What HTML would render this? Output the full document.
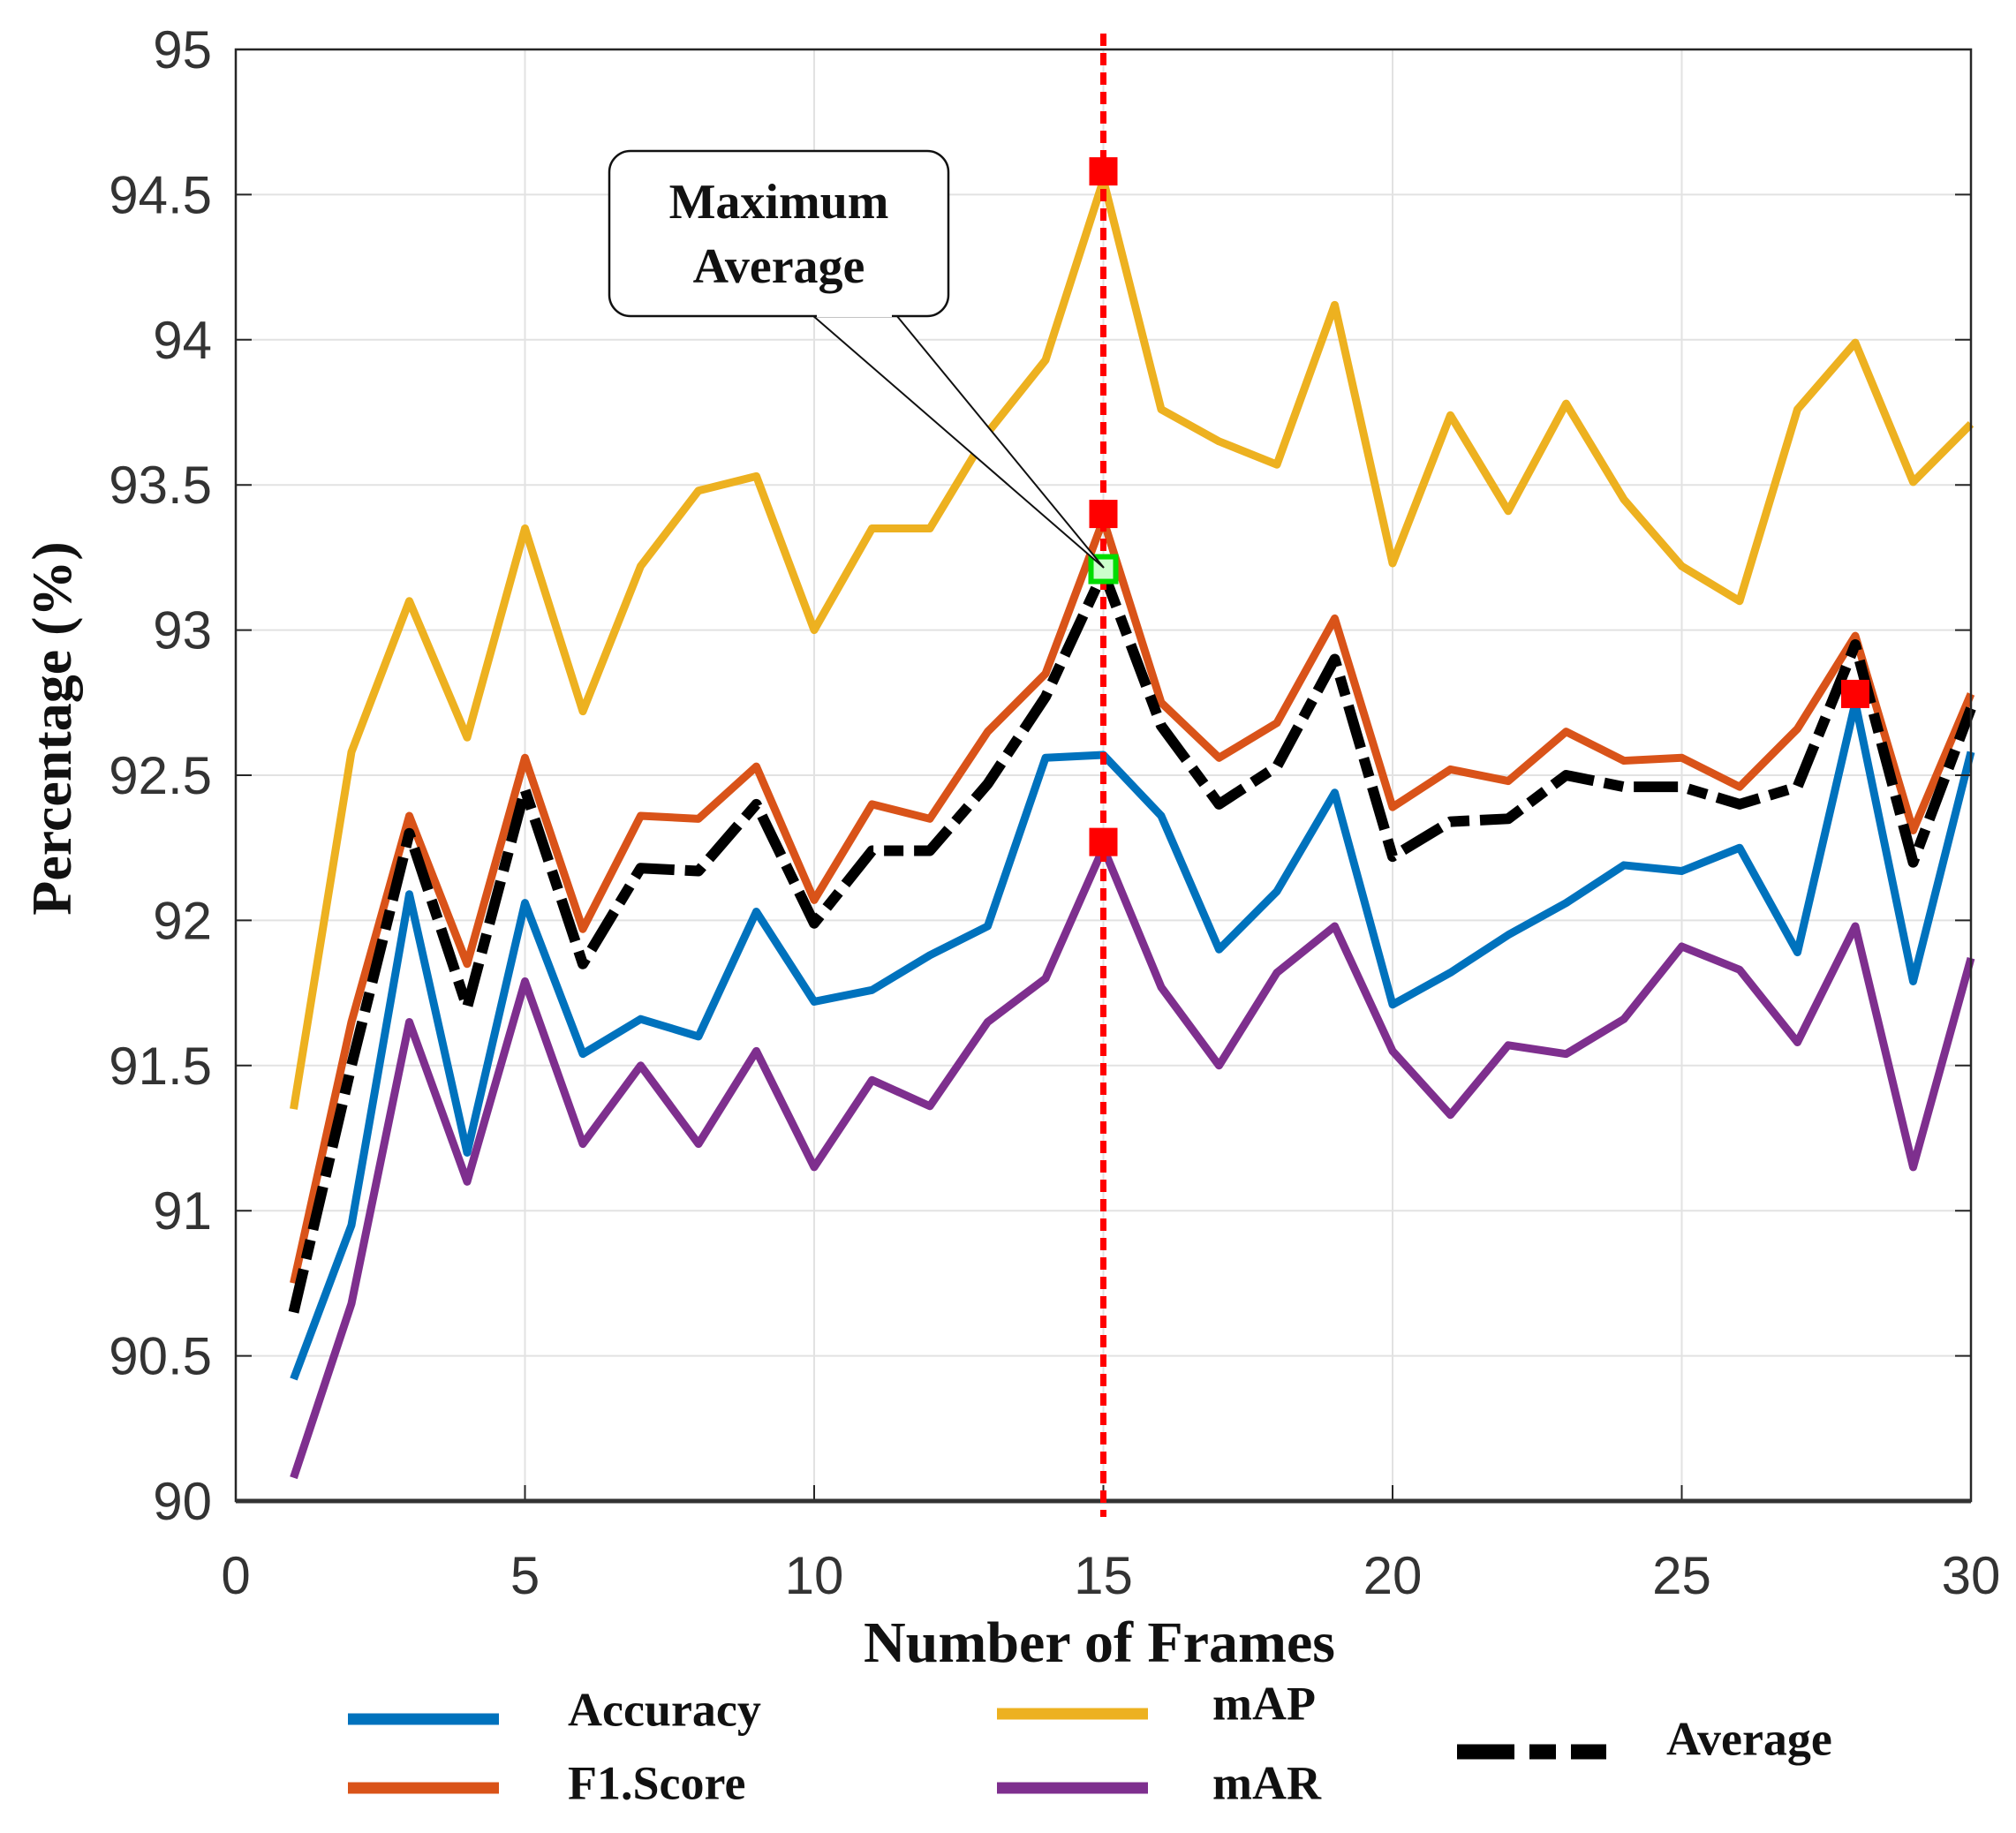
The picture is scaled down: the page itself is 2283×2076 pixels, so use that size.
<!DOCTYPE html>
<html><head><meta charset="utf-8">
<style>
html,body{margin:0;padding:0;background:#fff;}
svg{display:block;}
.tick{font-family:"Liberation Sans",sans-serif;font-size:60px;fill:#333;}
.serif{font-family:"Liberation Serif",serif;font-weight:bold;fill:#111;}
</style></head>
<body>
<svg id="chart" width="2283" height="2076" viewBox="0 0 2283 2076" xmlns="http://www.w3.org/2000/svg">
<g id="grid"></g>
<g id="series"></g>
<g id="axes"></g>
<g id="markers"></g>
<g>
  <path d="M920 357 L1250 643 L1015 357" fill="#fff" stroke="#111" stroke-width="2"/>
  <rect x="690" y="171" width="384" height="187" rx="24" fill="#fff" stroke="#111" stroke-width="2.5"/>
  <line x1="925" y1="357" x2="1010" y2="357" stroke="#fff" stroke-width="4"/>
  <text class="serif" font-size="56" text-anchor="middle" x="882" y="247">Maximum</text>
  <text class="serif" font-size="56" text-anchor="middle" x="882" y="320">Average</text>
</g>
<text class="serif" font-size="66" text-anchor="middle" x="1245" y="1882">Number of Frames</text>
<text class="serif" font-size="64" text-anchor="middle" transform="translate(80,825) rotate(-90)">Percentage (%)</text>
<g>
  <line x1="394" y1="1947" x2="565" y2="1947" stroke="#0072BD" stroke-width="13"/>
  <text class="serif" font-size="54" x="643" y="1942" dominant-baseline="middle">Accuracy</text>
  <line x1="394" y1="2025" x2="565" y2="2025" stroke="#D95319" stroke-width="13"/>
  <text class="serif" font-size="54" x="643" y="2025" dominant-baseline="middle">F1.Score</text>
  <line x1="1129" y1="1941" x2="1300" y2="1941" stroke="#EDB120" stroke-width="13"/>
  <text class="serif" font-size="54" x="1373" y="1935" dominant-baseline="middle">mAP</text>
  <line x1="1129" y1="2025" x2="1300" y2="2025" stroke="#7E2F8E" stroke-width="13"/>
  <text class="serif" font-size="54" x="1373" y="2025" dominant-baseline="middle">mAR</text>
  <line x1="1650" y1="1984" x2="1819" y2="1984" stroke="#000" stroke-width="17" stroke-dasharray="65 17 30 17"/>
  <text class="serif" font-size="54" x="1887" y="1975" dominant-baseline="middle">Average</text>
</g>
</svg>
<script>
const frames = [1,2,3,4,5,6,7,8,9,10,11,12,13,14,15,16,17,18,19,20,21,22,23,24,25,26,27,28,29,30];
const mAP = [91.35,92.58,93.1,92.63,93.35,92.72,93.22,93.48,93.53,93.0,93.35,93.35,93.68,93.93,94.55,93.76,93.65,93.57,94.12,93.23,93.74,93.41,93.78,93.45,93.22,93.1,93.76,93.99,93.51,93.71];
const f1Score = [90.75,91.65,92.36,91.85,92.56,91.97,92.36,92.35,92.53,92.07,92.4,92.35,92.65,92.85,93.38,92.75,92.56,92.68,93.04,92.39,92.52,92.48,92.65,92.55,92.56,92.46,92.66,92.98,92.31,92.78];
const accuracy = [90.42,90.95,92.09,91.2,92.06,91.54,91.66,91.6,92.03,91.72,91.76,91.88,91.98,92.56,92.57,92.36,91.9,92.1,92.44,91.71,91.82,91.95,92.06,92.19,92.17,92.25,91.89,92.75,91.79,92.58];
const mAR = [90.08,90.68,91.65,91.1,91.79,91.23,91.5,91.23,91.55,91.15,91.45,91.36,91.65,91.8,92.25,91.77,91.5,91.82,91.98,91.55,91.33,91.57,91.54,91.66,91.91,91.83,91.58,91.98,91.15,91.87];
const average = [90.65,91.5,92.3,91.7,92.45,91.85,92.18,92.17,92.4,91.99,92.24,92.24,92.47,92.77,93.2,92.67,92.4,92.53,92.9,92.22,92.34,92.35,92.5,92.46,92.46,92.4,92.46,92.95,92.2,92.73];
const xTicks = [0,5,10,15,20,25,30];
const yTicks = [90,90.5,91,91.5,92,92.5,93,93.5,94,94.5,95];
const redMarkersX = [15,15,15,28];
const redMarkersY = [94.58,93.4,92.27,92.78];
const greenMarkerX = [15];
const greenMarkerY = [93.21];
const highlightFrame = 15;

const L=267,R=2232,T=56,B=1700;
const sx=v=>L+(v-0)/(30-0)*(R-L);
const sy=v=>B-(v-90)/(95-90)*(B-T);
const NS="http://www.w3.org/2000/svg";
function mk(tag,parent){const e=document.createElementNS(NS,tag);parent.appendChild(e);return e;}
const grid=document.getElementById('grid'),axes=document.getElementById('axes'),ser=document.getElementById('series'),mks=document.getElementById('markers');

xTicks.forEach(t=>{
  const g=mk('line',grid);
  
  
  g.setAttribute('x1',sx(t));g.setAttribute('x2',sx(t));g.setAttribute('y1',T);g.setAttribute('y2',B);
  g.setAttribute('stroke','#e2e2e2');g.setAttribute('stroke-width','2');
  const tk=mk('line',axes);
  
  
  tk.setAttribute('x1',sx(t));tk.setAttribute('x2',sx(t));tk.setAttribute('y1',B);tk.setAttribute('y2',B-18);
  tk.setAttribute('stroke','#262626');tk.setAttribute('stroke-width','2');
  const tx=mk('text',axes);
  
  
  tx.setAttribute('class','tick');tx.setAttribute('x',sx(t));tx.setAttribute('y',1805);tx.setAttribute('text-anchor','middle');
  tx.textContent=t;
});
yTicks.forEach(t=>{
  const g=mk('line',grid);
  
  
  g.setAttribute('x1',L);g.setAttribute('x2',R);g.setAttribute('y1',sy(t));g.setAttribute('y2',sy(t));
  g.setAttribute('stroke','#e2e2e2');g.setAttribute('stroke-width','2');
  const tk=mk('line',axes);
  
  
  tk.setAttribute('x1',L);tk.setAttribute('x2',L+18);tk.setAttribute('y1',sy(t));tk.setAttribute('y2',sy(t));
  tk.setAttribute('stroke','#262626');tk.setAttribute('stroke-width','2');
  const tk2=mk('line',axes);
  
  
  tk2.setAttribute('x1',R);tk2.setAttribute('x2',R-18);tk2.setAttribute('y1',sy(t));tk2.setAttribute('y2',sy(t));
  tk2.setAttribute('stroke','#262626');tk2.setAttribute('stroke-width','2');
  const tx=mk('text',axes);
  
  
  tx.setAttribute('class','tick');tx.setAttribute('x',240);tx.setAttribute('y',sy(t)+21);tx.setAttribute('text-anchor','end');
  tx.textContent=t;
});
const box=mk('rect',axes);


box.setAttribute('x',L);box.setAttribute('y',T);box.setAttribute('width',R-L);box.setAttribute('height',B-T);
box.setAttribute('fill','none');box.setAttribute('stroke','#262626');box.setAttribute('stroke-width','2.5');
const bl=mk('line',axes);


bl.setAttribute('x1',L);bl.setAttribute('x2',R);bl.setAttribute('y1',B);bl.setAttribute('y2',B);
bl.setAttribute('stroke','#333');bl.setAttribute('stroke-width','5');

function series(vals,color,name,w,dash){
  const p=mk('polyline',ser);
  
  
  p.setAttribute('points',vals.map((v,i)=>sx(frames[i])+','+sy(v)).join(' '));
  p.setAttribute('fill','none');p.setAttribute('stroke',color);p.setAttribute('stroke-width',w);
  p.setAttribute('stroke-linejoin','round');
  if(dash)p.setAttribute('stroke-dasharray',dash);
}
series(mAP,'#EDB120','map-line',9);
series(accuracy,'#0072BD','accuracy-line',9);
series(mAR,'#7E2F8E','mar-line',9);
series(f1Score,'#D95319','f1-score-line',9);
series(average,'#000','average-line',12,'50 12 22 12');

const vl=mk('line',mks);


vl.setAttribute('x1',sx(highlightFrame));vl.setAttribute('x2',sx(highlightFrame));vl.setAttribute('y1',38);vl.setAttribute('y2',1718);
vl.setAttribute('stroke','#ff0000');vl.setAttribute('stroke-width','7');vl.setAttribute('stroke-dasharray','14 8');

redMarkersX.forEach((x,i)=>{
  const r=mk('rect',mks);
  
  
  r.setAttribute('x',sx(x)-16);r.setAttribute('y',sy(redMarkersY[i])-16);r.setAttribute('width',32);r.setAttribute('height',32);
  r.setAttribute('fill','#ff0000');
});
greenMarkerX.forEach((x,i)=>{
  const r=mk('rect',mks);
  
  
  r.setAttribute('x',sx(x)-14);r.setAttribute('y',sy(greenMarkerY[i])-14);r.setAttribute('width',28);r.setAttribute('height',28);
  r.setAttribute('fill','#ccffcc');r.setAttribute('stroke','#00dd00');r.setAttribute('stroke-width','6');
});
</script>
</body></html>
